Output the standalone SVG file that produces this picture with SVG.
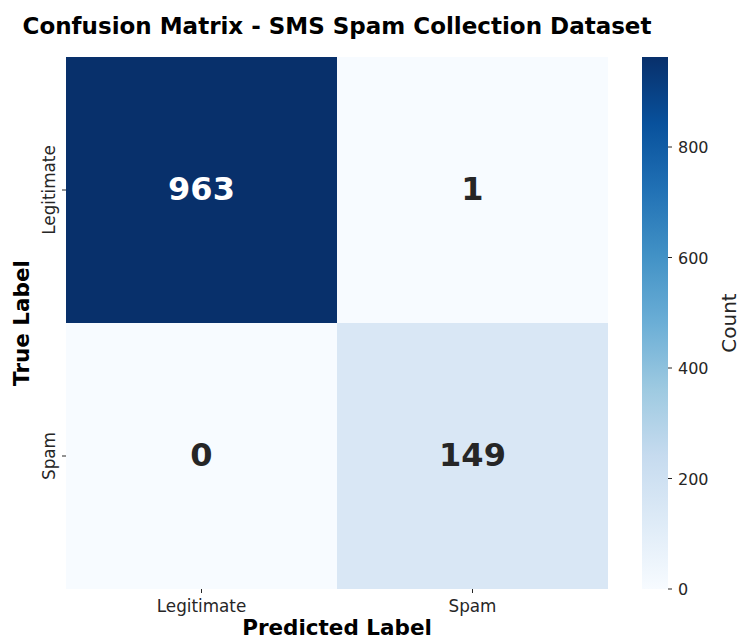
<svg xmlns="http://www.w3.org/2000/svg" width="740" height="640" viewBox="0 0 740 640">
<defs>
<linearGradient id="blues" x1="0" y1="1" x2="0" y2="0">
<stop offset="0" stop-color="#f7fbff"/>
<stop offset="0.125" stop-color="#deebf7"/>
<stop offset="0.25" stop-color="#c6dbef"/>
<stop offset="0.375" stop-color="#9ecae1"/>
<stop offset="0.5" stop-color="#6baed6"/>
<stop offset="0.625" stop-color="#4292c6"/>
<stop offset="0.75" stop-color="#2171b5"/>
<stop offset="0.875" stop-color="#08519c"/>
<stop offset="1" stop-color="#08306b"/>
</linearGradient>
<style>
text{font-family:"DejaVu Sans","Liberation Sans",sans-serif;}
.title{font-size:23px;font-weight:bold;fill:#000;}
.ann{font-size:32px;font-weight:bold;text-anchor:middle;}
.tick{font-size:16.8px;fill:#262626;}
.axl{font-size:21.5px;font-weight:bold;fill:#000;text-anchor:middle;}
.cb{font-size:16px;fill:#262626;}
.tk{stroke:#262626;stroke-width:1;}
</style>
</defs>
<rect width="740" height="640" fill="#fff"/>
<text class="title" x="337" y="34" text-anchor="middle">Confusion Matrix - SMS Spam Collection Dataset</text>
<g id="cell-tl"><rect x="66" y="57" width="271" height="266" fill="#08306b"/><text class="ann" x="201.5" y="200" fill="#ffffff">963</text></g>
<g id="cell-tr"><rect x="337" y="57" width="271" height="266" fill="#f7fbff"/><text class="ann" x="472.5" y="200" fill="#262626">1</text></g>
<g id="cell-bl"><rect x="66" y="323" width="271" height="266" fill="#f7fbff"/><text class="ann" x="201.5" y="466" fill="#262626">0</text></g>
<g id="cell-br"><rect x="337" y="323" width="271" height="266" fill="#d9e7f5"/><text class="ann" x="472.5" y="466" fill="#262626">149</text></g>
<g id="yaxis">
<line class="tk" x1="62" y1="190" x2="66" y2="190"/>
<line class="tk" x1="62" y1="456" x2="66" y2="456"/>
<text class="tick" transform="translate(55,190) rotate(-90)" text-anchor="middle">Legitimate</text>
<text class="tick" transform="translate(55,456) rotate(-90)" text-anchor="middle">Spam</text>
<text class="axl" transform="translate(29,323) rotate(-90)">True Label</text>
</g>
<g id="xaxis">
<line class="tk" x1="201.5" y1="589" x2="201.5" y2="593"/>
<line class="tk" x1="472.5" y1="589" x2="472.5" y2="593"/>
<text class="tick" x="201.5" y="612" text-anchor="middle">Legitimate</text>
<text class="tick" x="472.5" y="612" text-anchor="middle">Spam</text>
<text class="axl" x="337" y="635">Predicted Label</text>
</g>
<g id="colorbar">
<rect x="642" y="57" width="26" height="532" fill="url(#blues)"/>
<line class="tk" x1="668" y1="589" x2="672" y2="589"/>
<line class="tk" x1="668" y1="478.5" x2="672" y2="478.5"/>
<line class="tk" x1="668" y1="368" x2="672" y2="368"/>
<line class="tk" x1="668" y1="257.5" x2="672" y2="257.5"/>
<line class="tk" x1="668" y1="147" x2="672" y2="147"/>
<text class="cb" x="678" y="595">0</text>
<text class="cb" x="678" y="484.5">200</text>
<text class="cb" x="678" y="374">400</text>
<text class="cb" x="678" y="263.5">600</text>
<text class="cb" x="678" y="153">800</text>
<text transform="translate(736,323) rotate(-90)" text-anchor="middle" style="font-size:20px;fill:#262626">Count</text>
</g>
</svg>
